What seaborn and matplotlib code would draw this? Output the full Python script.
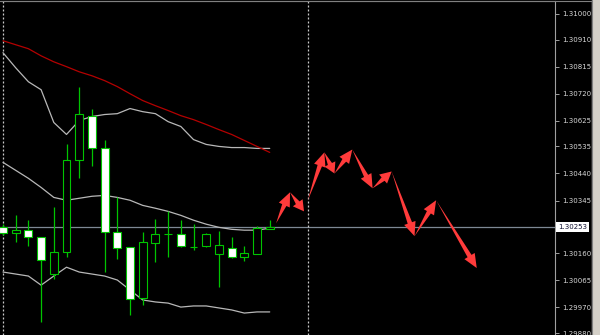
import numpy as np
import pandas as pd
import matplotlib
matplotlib.use("Agg")
import matplotlib.pyplot as plt
from matplotlib.transforms import blended_transform_factory
from matplotlib.patches import Rectangle
from matplotlib.lines import Line2D
import seaborn as sns

# ---------------- data ----------------
opens  = [1.30251, 1.30230, 1.30241, 1.30216, 1.30087, 1.30164, 1.30489, 1.30643, 1.30531, 1.30234, 1.30181,
          1.30003, 1.30195, 1.30227, 1.30227, 1.30181, 1.30185, 1.30157, 1.30178, 1.30146, 1.30157, 1.30244]
highs  = [1.30262, 1.30293, 1.30276, 1.30216, 1.30321, 1.30542, 1.30745, 1.30668, 1.30559, 1.30356, 1.30181,
          1.30234, 1.30279, 1.30307, 1.30276, 1.30262, 1.30230, 1.30237, 1.30216, 1.30185, 1.30255, 1.30276]
lows   = [1.30225, 1.30199, 1.30185, 1.29919, 1.30069, 1.30146, 1.30423, 1.30468, 1.30094, 1.30139, 1.29943,
          1.29978, 1.30129, 1.30146, 1.30181, 1.30171, 1.30181, 1.30041, 1.30143, 1.30132, 1.30157, 1.30244]
closes = [1.30230, 1.30241, 1.30216, 1.30136, 1.30164, 1.30489, 1.30650, 1.30528, 1.30234, 1.30178, 1.29999,
          1.30199, 1.30227, 1.30227, 1.30185, 1.30181, 1.30227, 1.30188, 1.30146, 1.30160, 1.30248, 1.30253]

bb_upper  = [1.30864, 1.30811, 1.30762, 1.30734, 1.30619, 1.30577, 1.30626, 1.30640, 1.30647, 1.30650, 1.30668,
             1.30657, 1.30650, 1.30622, 1.30605, 1.30559, 1.30542, 1.30535, 1.30531, 1.30531, 1.30528, 1.30528]
bb_middle = [1.30479, 1.30451, 1.30423, 1.30391, 1.30356, 1.30346, 1.30353, 1.30360, 1.30363, 1.30356, 1.30346,
             1.30328, 1.30318, 1.30307, 1.30293, 1.30276, 1.30262, 1.30251, 1.30244, 1.30241, 1.30241, 1.30248]
bb_lower  = [1.30094, 1.30087, 1.30080, 1.30048, 1.30080, 1.30111, 1.30094, 1.30087, 1.30080, 1.30066, 1.30031,
             1.29996, 1.29989, 1.29985, 1.29971, 1.29975, 1.29975, 1.29968, 1.29961, 1.29950, 1.29954, 1.29954]
ma_red    = [1.30906, 1.30892, 1.30878, 1.30853, 1.30832, 1.30815, 1.30797, 1.30783, 1.30766, 1.30745, 1.30720,
             1.30696, 1.30678, 1.30661, 1.30643, 1.30629, 1.30612, 1.30594, 1.30577, 1.30556, 1.30535, 1.30514]

# projected path (bar index, price) drawn as arrows
proj1_x = [21.5, 22.6, 23.7]
proj1_y = [1.30265, 1.30374, 1.30307]
proj2_x = [24.0, 25.3, 26.1, 27.5, 29.1, 30.6, 32.4, 34.1, 37.3]
proj2_y = [1.30346, 1.30514, 1.30440, 1.30524, 1.30388, 1.30447, 1.30220, 1.30346, 1.30108]

separators = [0, 24]
last_price = 1.30253
ytick_vals = [1.31000, 1.30910, 1.30815, 1.30720, 1.30625, 1.30535, 1.30440, 1.30345,
              1.30160, 1.30065, 1.29970, 1.29880]

# ---------------- style ----------------
sns.set_style("dark", {"axes.facecolor": "black", "figure.facecolor": "black"})
plt.rcParams["font.family"] = ["DejaVu Sans"]

GREEN = "#00c400"
BAND = "#b8b8b8"
RED_MA = "#b40000"
ARROW = "#ff3b3b"

fig = plt.figure(figsize=(6, 3.35), dpi=100)
fig.patch.set_facecolor("black")
ax = fig.add_axes([0, 0, 555 / 600, 334 / 335])
ax.set_facecolor("black")
ax.grid(False)

x = np.arange(len(opens))
df = pd.DataFrame({"x": x, "upper": bb_upper, "middle": bb_middle, "lower": bb_lower, "ma": ma_red})

# bands and moving average
for col in ["upper", "middle", "lower"]:
    sns.lineplot(data=df, x="x", y=col, ax=ax, color=BAND, lw=0.9, zorder=2)
sns.lineplot(data=df, x="x", y="ma", ax=ax, color=RED_MA, lw=0.9, zorder=2)

# current price line + separators
ax.axhline(last_price, color="#7d8894", lw=0.9, zorder=1)
for s in separators:
    ax.axvline(s, color="#c8c8c8", lw=0.9, ls=(0, (1.6, 1.6)), zorder=1)

# candles
o = np.array(opens); c = np.array(closes); h = np.array(highs); l = np.array(lows)
ax.vlines(x, l, h, color=GREEN, lw=0.9, zorder=3)
bottoms = np.minimum(o, c)
heights = np.maximum(np.abs(c - o), 1e-7)
faces = ["white" if cc < oo else "black" for oo, cc in zip(o, c)]
ax.bar(x, heights, bottom=bottoms, width=0.62, color=faces, edgecolor=GREEN, linewidth=0.8, zorder=4)

ax.set_xlim(-0.236, 43.46)
ax.set_ylim(1.29873, 1.310455)
ax.set_xlabel("")
ax.set_ylabel("")
ax.set_xticks([])

# arrows
fig.canvas.draw()
T = ax.transData


def draw_arrow(p0, p1):
    a = T.transform(p0)
    b = T.transform(p1)
    d = b - a
    L = np.hypot(*d)
    u = d / L
    n = np.array([-u[1], u[0]])
    hl = min(14.0, L * 0.45)
    hw = 6.0
    sw = 2.3
    base = b - u * hl
    pts = np.array([a, base + n * sw, base + n * hw, b, base - n * hw, base - n * sw])
    pd_ = T.inverted().transform(pts)
    ax.fill(pd_[:, 0], pd_[:, 1], color=ARROW, lw=0, zorder=5)


for xs, ys in [(proj1_x, proj1_y), (proj2_x, proj2_y)]:
    for i in range(len(xs) - 1):
        draw_arrow((xs[i], ys[i]), (xs[i + 1], ys[i + 1]))

# right price axis
ax.yaxis.tick_right()
ax.set_yticks(ytick_vals)
ax.set_yticklabels([f"{v:.5f}" for v in ytick_vals])
ax.tick_params(axis="y", which="both", right=True, left=False, direction="out", length=3, width=0.7,
               color="#a0a0a0", labelcolor="#d8d8d8", labelsize=5, pad=2)
for side in ["left", "bottom"]:
    ax.spines[side].set_visible(False)
ax.spines["right"].set_color("#a0a0a0")
ax.spines["right"].set_linewidth(0.8)
ax.spines["top"].set_color("#808080")
ax.spines["top"].set_linewidth(0.8)

tr = blended_transform_factory(ax.transAxes, ax.transData)
ax.text(1.006, last_price, f"{last_price:.5f}", transform=tr, ha="left", va="center", fontsize=5,
        color="#101030", clip_on=False, zorder=10,
        bbox=dict(boxstyle="square,pad=0.3", fc="white", ec="none"))

# window frame on the right
fig.patches.append(Rectangle((592 / 600, 0), 8 / 600, 1, transform=fig.transFigure, color="#d4d0c8", zorder=0))
fig.lines.append(Line2D([592 / 600, 592 / 600], [0, 1], transform=fig.transFigure, color="#808080", lw=0.8))
fig.lines.append(Line2D([0, 592 / 600], [334.5 / 335, 334.5 / 335], transform=fig.transFigure, color="#808080", lw=0.8))

fig.savefig("out.png", dpi=100, facecolor=fig.get_facecolor())
